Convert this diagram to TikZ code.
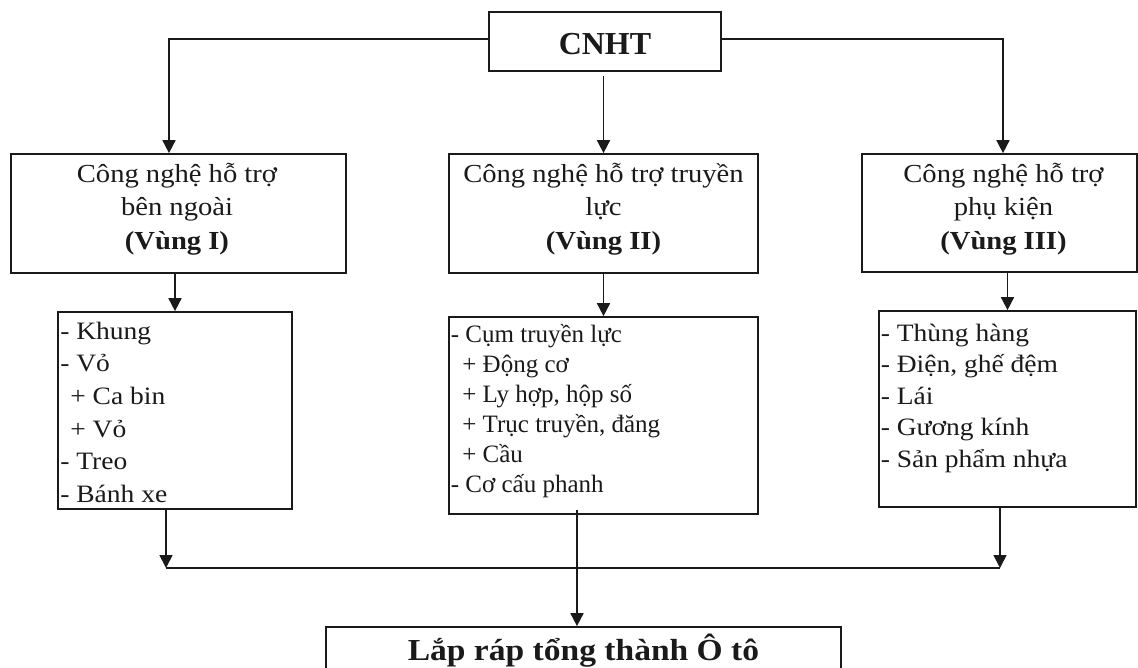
\documentclass[tikz,border=0pt]{standalone}
\usepackage{fontspec}
\setmainfont{Liberation Serif}
\newfontfamily\wide[FakeStretch=1.1]{Liberation Serif}
\usetikzlibrary{arrows.meta}
\definecolor{ink}{HTML}{1A1A1A}
\begin{document}
\begin{tikzpicture}[x=1pt,y=-1pt,
  box/.style={draw=ink, line width=1.7pt, rectangle, inner sep=0pt},
  head/.style={inner sep=0pt, align=center, text=ink,
               font=\wide\fontsize{26}{33.5}\selectfont},
  listtext/.style={inner sep=0pt, align=left, text=ink},
  conn/.style={draw=ink, line width=1.7pt},
  arr/.style={conn, -{Triangle[length=13pt,width=13pt]}}]

\useasboundingbox[fill=white] (0,0) rectangle (1138,668);

% top node
\node[box, minimum width=232pt, minimum height=59pt, text height=27pt, text depth=0pt,
      text=ink, font=\bfseries\fontsize{32}{36}\selectfont] (cnht) at (605,41.5) {CNHT};

% three branches
\node[box, minimum width=335pt, minimum height=119pt] (b1) at (178.5,213.5) {};
\node[head, anchor=north] (b1t) at ([xshift=-1.5pt,yshift=-5.5pt]b1.north)
  {\strut Công nghệ hỗ trợ\\\strut bên ngoài\\\strut\textbf{(Vùng I)}};

\node[box, minimum width=309pt, minimum height=119pt] (b2) at (603.5,213.5) {};
\node[head, anchor=north] (b2t) at ([yshift=-5.5pt]b2.north)
  {\strut Công nghệ hỗ trợ truyền\\\strut lực\\\strut\textbf{(Vùng II)}};

\node[box, minimum width=275pt, minimum height=118pt] (b3) at (999.5,213) {};
\node[head, anchor=north] (b3t) at ([xshift=4pt,yshift=-5.5pt]b3.north)
  {\strut Công nghệ hỗ trợ\\\strut phụ kiện\\\strut\textbf{(Vùng III)}};

% component lists
\node[box, minimum width=234pt, minimum height=197pt] (l1) at (175,410.5) {};
\node[listtext, anchor=north west, font=\wide\fontsize{25}{32.6}\selectfont] (l1t)
  at ([xshift=3pt,yshift=-5.2pt]l1.north west)
  {\strut- Khung\\\strut- Vỏ\\\strut\hspace*{10pt}+ Ca bin\\\strut\hspace*{10pt}+ Vỏ\\\strut- Treo\\\strut- Bánh xe};

\node[box, minimum width=309pt, minimum height=197pt] (l2) at (603.5,415.5) {};
\node[listtext, anchor=north west, font=\fontsize{25}{30}\selectfont] (l2t)
  at ([xshift=2.5pt,yshift=-5pt]l2.north west)
  {\strut- Cụm truyền lực\\\strut\hspace*{11.5pt}+ Động cơ\\\strut\hspace*{11.5pt}+ Ly hợp, hộp số\\\strut\hspace*{11.5pt}+ Trục truyền, đăng\\\strut\hspace*{11.5pt}+ Cầu\\\strut- Cơ cấu phanh};

\node[box, minimum width=257pt, minimum height=196pt] (l3) at (1007.5,409) {};
\node[listtext, anchor=north west, font=\wide\fontsize{25}{31.5}\selectfont] (l3t)
  at ([xshift=2.5pt,yshift=-9pt]l3.north west)
  {\strut- Thùng hàng\\\strut- Điện, ghế đệm\\\strut- Lái\\\strut- Gương kính\\\strut- Sản phẩm nhựa};

% final assembly
\node[box, minimum width=515pt, minimum height=43pt, text height=30pt, text depth=7pt,
      text=ink, font=\wide\bfseries\fontsize{30.5}{34}\selectfont] (fin) at (583.5,648.5)
  {Lắp ráp tổng thành Ô tô};

% connectors from the top node
\draw[arr] ([yshift=2.5pt]cnht.west) -| ([xshift=-9.5pt]b1.north);
\draw[arr] ([yshift=2.5pt]cnht.east) -| ([xshift=3.5pt]b3.north);
\draw[arr, shorten <=4pt] (b2.north |- cnht.south) -- (b2.north);

% branch to list
\draw[arr] (l1.north |- b1.south) -- (l1.north);
\draw[arr] (l2.north |- b2.south) -- (l2.north);
\draw[arr] (l3.north |- b3.south) -- (l3.north);

% collecting line
\coordinate (jl) at (166,568);
\coordinate (jr) at (1000,568);
\draw[conn] (jl) -- (jr);
\draw[arr] (l1.south -| jl) -- (jl);
\draw[arr] (l3.south -| jr) -- (jr);
\draw[arr] ([xshift=-26.5pt,yshift=5pt]l2.south) -- ([xshift=-6.5pt]fin.north);
\end{tikzpicture}
\end{document}
